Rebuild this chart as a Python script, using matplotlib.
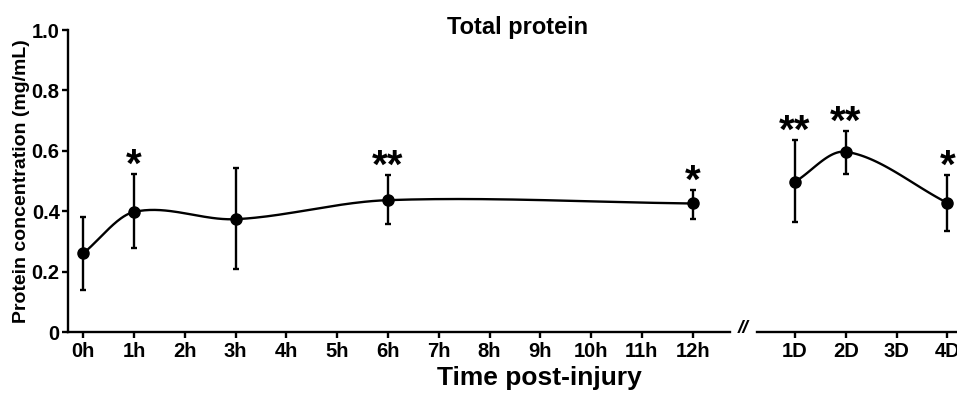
import matplotlib.pyplot as plt
import numpy as np

plt.rcParams['font.family'] = ['Liberation Sans', 'DejaVu Sans']
plt.rcParams['font.weight'] = 'bold'

# early time points (hours)
hours = [0, 1, 3, 6, 12]
hour_mean = [0.261, 0.398, 0.374, 0.437, 0.426]
hour_lo = [0.139, 0.277, 0.208, 0.357, 0.376]
hour_hi = [0.380, 0.523, 0.544, 0.520, 0.472]
hour_sig = ['', '*', '', '**', '*']

# later time points (days)
days = [1, 2, 4]
day_mean = [0.498, 0.597, 0.428]
day_lo = [0.365, 0.525, 0.335]
day_hi = [0.636, 0.667, 0.520]
day_sig = ['**', '**', '*']

hour_ticks = list(range(13))
hour_labels = [str(h) + 'h' for h in hour_ticks]
day_ticks = [1, 2, 3, 4]
day_labels = [str(d) + 'D' for d in day_ticks]
y_ticks = [0, 0.2, 0.4, 0.6, 0.8, 1.0]
y_labels = ['0', '0.2', '0.4', '0.6', '0.8', '1.0']


def smooth(x, y, n=40):
    # cubic hermite through the points, just for the drawn curve
    x = np.asarray(x, float)
    y = np.asarray(y, float)
    m = np.zeros_like(y)
    m[0] = (y[1] - y[0]) / (x[1] - x[0])
    m[-1] = (y[-1] - y[-2]) / (x[-1] - x[-2])
    for i in range(1, len(x) - 1):
        m[i] = (y[i + 1] - y[i - 1]) / (x[i + 1] - x[i - 1])
    xs, ys = [], []
    for i in range(len(x) - 1):
        h = x[i + 1] - x[i]
        t = np.linspace(0, 1, n)
        h00 = 2 * t**3 - 3 * t**2 + 1
        h10 = t**3 - 2 * t**2 + t
        h01 = -2 * t**3 + 3 * t**2
        h11 = t**3 - t**2
        xs.append(x[i] + t * h)
        ys.append(h00 * y[i] + h10 * h * m[i] + h01 * y[i + 1] + h11 * h * m[i + 1])
    return np.concatenate(xs), np.concatenate(ys)


fig = plt.figure(figsize=(9.57, 3.95), dpi=100)
ax1 = fig.add_axes([0.0711, 0.159, 0.692, 0.765])
ax2 = fig.add_axes([0.791, 0.159, 0.209, 0.765])

for ax, x, mean, lo, hi, sig in [(ax1, hours, hour_mean, hour_lo, hour_hi, hour_sig),
                                 (ax2, days, day_mean, day_lo, day_hi, day_sig)]:
    sx, sy = smooth(x, mean)
    ax.plot(sx, sy, color='black', lw=1.7, zorder=2)
    yerr = [np.array(mean) - np.array(lo), np.array(hi) - np.array(mean)]
    ax.errorbar(x, mean, yerr=yerr, fmt='o', color='black', ms=8,
                elinewidth=1.7, capsize=2, capthick=1.7, zorder=3)
    for xi, top, s in zip(x, hi, sig):
        if s:
            ax.text(xi, top - 0.010, s, ha='center', va='baseline',
                    fontsize=29, fontweight='bold', clip_on=False)
    ax.set_ylim(0, 1.0)
    ax.spines['top'].set_visible(False)
    ax.spines['right'].set_visible(False)
    ax.spines['bottom'].set_linewidth(1.7)
    ax.spines['left'].set_linewidth(1.7)
    ax.tick_params(axis='x', direction='out', length=4, width=1.7, labelsize=14.5, pad=3)
    ax.tick_params(axis='y', direction='out', length=4, width=1.7, labelsize=14.5, pad=2)
    ax.set_facecolor('none')

ax1.set_xlim(-0.3, 12.74)
ax1.set_xticks(hour_ticks)
ax1.set_xticklabels(hour_labels)
ax1.set_yticks(y_ticks)
ax1.set_yticklabels(y_labels)
ax1.set_ylabel('Protein concentration (mg/mL)', fontsize=14, fontweight='bold', labelpad=1)

ax2.set_xlim(0.25, 4.19)
ax2.set_xticks(day_ticks)
ax2.set_xticklabels(day_labels)
ax2.spines['left'].set_visible(False)
ax2.set_yticks([])

fig.text(0.776, 0.168, '//', ha='center', va='center', fontsize=14, fontweight='bold', style='italic')
fig.text(0.541, 0.915, 'Total protein', ha='center', va='baseline', fontsize=17, fontweight='bold')
fig.text(0.564, 0.025, 'Time post-injury', ha='center', va='baseline', fontsize=19, fontweight='bold')

fig.savefig('out.png', dpi=100)
